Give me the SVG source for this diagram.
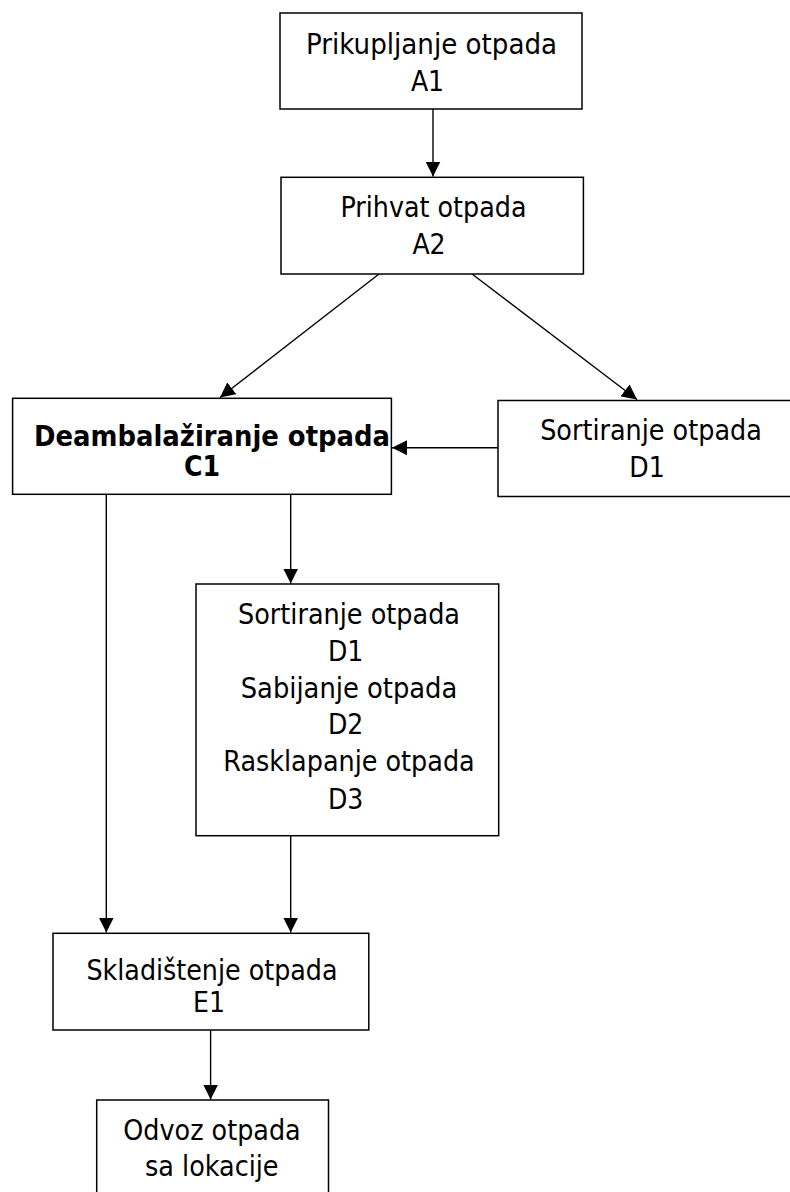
<svg xmlns="http://www.w3.org/2000/svg" width="790" height="1192" viewBox="0 0 790 1192">
<style>
.box{fill:#fff;stroke:#000;stroke-width:1.5}
.lbl{font-family:"DejaVu Sans Condensed","DejaVu Sans",sans-serif;font-stretch:condensed;font-size:28px;fill:#000;text-anchor:middle}
.b{font-weight:bold}
.con{stroke:#000;stroke-width:1.4;fill:none;marker-end:url(#ah)}
</style>
<defs>
<marker id="ah" markerUnits="userSpaceOnUse" markerWidth="15" markerHeight="15" refX="15" refY="7.5" orient="auto" viewBox="0 0 15 15">
<path d="M0,0 L15,7.5 L0,15 Z" fill="#000"/>
</marker>
</defs>
<rect width="790" height="1192" fill="#fff"/>
<g id="connectors">
<line class="con" x1="433" y1="109" x2="433" y2="176.5"/>
<line class="con" x1="379" y1="274" x2="220" y2="397.5"/>
<line class="con" x1="472" y1="274" x2="637" y2="399.5"/>
<line class="con" x1="498" y1="447.7" x2="392" y2="447.7"/>
<line class="con" x1="290.7" y1="494.5" x2="290.7" y2="583.5"/>
<line class="con" x1="106.3" y1="494.5" x2="106.3" y2="932.5"/>
<line class="con" x1="290.7" y1="836" x2="290.7" y2="932.5"/>
<line class="con" x1="210.6" y1="1030" x2="210.6" y2="1099.5"/>
</g>
<g id="A1">
<rect class="box" x="280" y="13" width="302" height="96"/>
<text class="lbl" x="431.6" y="54.3" textLength="251" lengthAdjust="spacingAndGlyphs">Prikupljanje otpada</text>
<text class="lbl" x="427.5" y="90.7">A1</text>
</g>
<g id="A2">
<rect class="box" x="281" y="177.3" width="302.4" height="96.7"/>
<text class="lbl" x="433.5" y="217" textLength="186" lengthAdjust="spacingAndGlyphs">Prihvat otpada</text>
<text class="lbl" x="429" y="254">A2</text>
</g>
<g id="C1">
<rect class="box" x="12.6" y="398.3" width="378.8" height="96"/>
<text class="lbl b" x="212" y="445.7" textLength="356" lengthAdjust="spacingAndGlyphs">Deambalažiranje otpada</text>
<text class="lbl b" x="202" y="476">C1</text>
</g>
<g id="D1">
<rect class="box" x="498" y="400.5" width="310" height="96"/>
<text class="lbl" x="651" y="440" textLength="221.7" lengthAdjust="spacingAndGlyphs">Sortiranje otpada</text>
<text class="lbl" x="647" y="476.7">D1</text>
</g>
<g id="D123">
<rect class="box" x="196" y="584" width="302.7" height="251.7"/>
<text class="lbl" x="349" y="624.3" textLength="222" lengthAdjust="spacingAndGlyphs">Sortiranje otpada</text>
<text class="lbl" x="345.6" y="661">D1</text>
<text class="lbl" x="349" y="698.3" textLength="216.6" lengthAdjust="spacingAndGlyphs">Sabijanje otpada</text>
<text class="lbl" x="345.6" y="734">D2</text>
<text class="lbl" x="349" y="771.3" textLength="251.4" lengthAdjust="spacingAndGlyphs">Rasklapanje otpada</text>
<text class="lbl" x="345.6" y="809">D3</text>
</g>
<g id="E1">
<rect class="box" x="53" y="933.3" width="315.8" height="96.7"/>
<text class="lbl" x="212" y="980" textLength="251" lengthAdjust="spacingAndGlyphs">Skladištenje otpada</text>
<text class="lbl" x="209" y="1011.7">E1</text>
</g>
<g id="Odvoz">
<rect class="box" x="96.7" y="1100" width="231.8" height="120"/>
<text class="lbl" x="212" y="1140" textLength="177.4" lengthAdjust="spacingAndGlyphs">Odvoz otpada</text>
<text class="lbl" x="211.8" y="1176" textLength="133.5" lengthAdjust="spacingAndGlyphs">sa lokacije</text>
</g>
</svg>
